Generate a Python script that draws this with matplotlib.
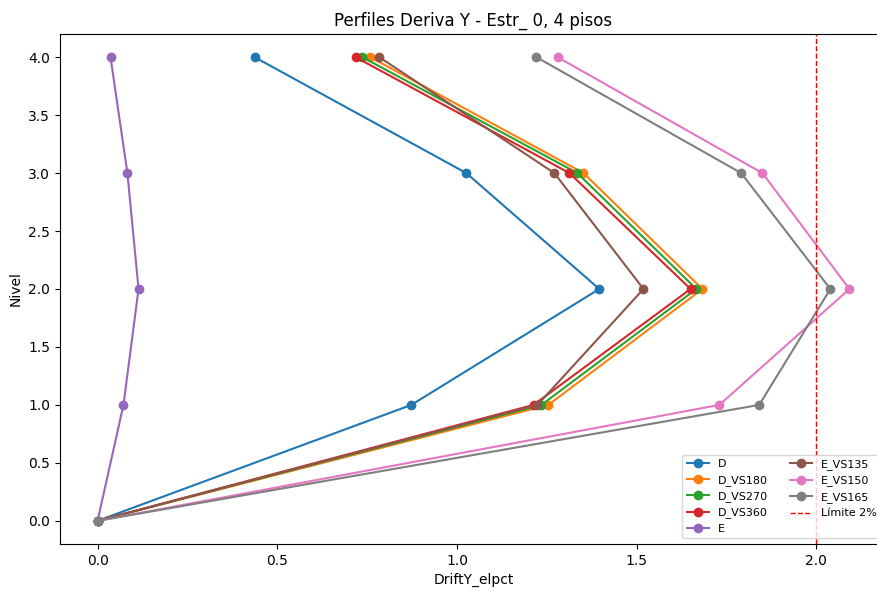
import numpy as np
import matplotlib
matplotlib.use('Agg')
import matplotlib.pyplot as plt

niveles = [0, 1, 2, 3, 4]

# deriva por nivel (nivel 0 a 4)
D = [0.0, 0.873, 1.396, 1.026, 0.437]
D_VS180 = [0.0, 1.254, 1.683, 1.352, 0.759]
D_VS270 = [0.0, 1.235, 1.666, 1.335, 0.737]
D_VS360 = [0.0, 1.213, 1.650, 1.313, 0.718]
E = [0.0, 0.072, 0.114, 0.083, 0.036]
E_VS135 = [0.0, 1.224, 1.519, 1.271, 0.784]
E_VS150 = [0.0, 1.730, 2.092, 1.850, 1.280]
E_VS165 = [0.0, 1.841, 2.039, 1.791, 1.221]

series = {'D': D, 'D_VS180': D_VS180, 'D_VS270': D_VS270, 'D_VS360': D_VS360,
          'E': E, 'E_VS135': E_VS135, 'E_VS150': E_VS150, 'E_VS165': E_VS165}
limite = 2.0

fig = plt.figure(figsize=(8.77, 5.91), dpi=100)
ax = fig.add_axes([0.0684, 0.0795, 0.943, 0.863])

for nombre, vals in series.items():
    ax.plot(vals, niveles, marker='o', label=nombre)

ax.axvline(limite, color='red', linestyle='--', linewidth=1, label='Límite 2%')

ax.set_ylim(-0.2, 4.2)
ax.set_xlabel('DriftY_elpct')
ax.set_ylabel('Nivel')
ax.set_title('Perfiles Deriva Y - Estr_ 0, 4 pisos')
ax.legend(loc='lower right', ncol=2, fontsize=8)

fig.savefig('out.png', dpi=100)
